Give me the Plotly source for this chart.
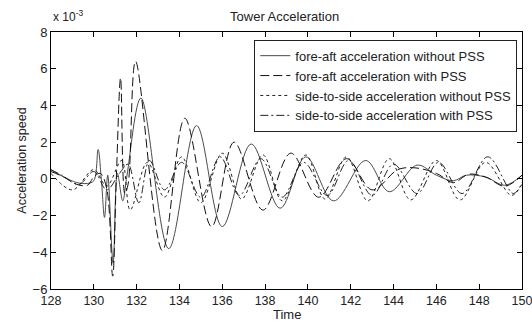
import plotly.graph_objects as go

# fore-aft acceleration without PSS (units of 1e-3)
t_fa_wo = [128.0, 128.6, 129.2, 129.7, 130.0, 130.2, 130.35, 130.5, 130.65, 130.9, 131.1, 131.35, 131.55,
           132.2, 133.5, 134.8, 136.0, 137.35, 138.7, 139.9, 141.2, 142.7, 143.8, 145.1, 146.0, 146.8,
           147.4, 148.3, 149.2, 150.0]
v_fa_wo = [0.5, 0.1, -0.2, -0.25, -0.1, 1.6, 0.0, -2.1, 0.2, -4.6, 0.3, -1.2, 0.2,
           4.4, -3.8, 2.9, -2.6, 1.9, -1.6, 1.2, -1.2, 1.0, -0.7, 0.75, 0.2, -0.1,
           0.2, 0.1, -0.35, 0.2]

# fore-aft acceleration with PSS
t_fa_w = [128.0, 128.6, 129.2, 129.7, 130.0, 130.3, 130.6, 130.88, 131.05, 131.25, 131.45, 131.6, 131.95,
          133.2, 134.25, 135.5, 136.55, 137.9, 139.2, 140.5, 141.8, 143.0, 144.2, 145.0, 146.0, 146.8,
          147.5, 148.3, 149.2, 150.0]
v_fa_w = [0.4, 0.1, -0.3, -0.35, 0.1, 0.3, -0.5, -5.3, 0.0, 5.5, -0.8, -0.3, 6.4,
          -3.9, 3.3, -2.6, 2.0, -1.7, 1.4, -1.0, 1.1, -0.6, 0.5, 0.6, 0.3, -0.2,
          0.25, 0.1, -0.4, 0.2]

# side-to-side acceleration without PSS
t_ss_wo = [128.0, 129.0, 130.0, 130.6, 131.3, 131.7, 132.5, 133.3, 134.1, 135.0, 136.0, 136.9, 137.9,
           138.8, 139.9, 140.8, 141.8, 142.8, 143.8, 144.8, 146.0, 147.1, 148.3, 149.5, 150.0]
v_ss_wo = [0.3, -0.6, 0.5, -0.4, 1.0, -1.7, 0.9, -1.0, 1.2, -1.3, 1.4, -1.1, 1.3,
           -1.2, 1.3, -1.1, 1.2, -1.2, 1.1, -1.15, 1.0, -1.15, 0.9, -0.9, -0.3]

# side-to-side acceleration with PSS
t_ss_w = [128.0, 128.5, 129.3, 130.0, 130.6, 131.2, 131.6, 132.1, 132.6, 133.3, 134.1, 135.0, 135.9,
          136.8, 137.8, 138.8, 139.8, 140.9, 141.9, 143.0, 144.0, 145.1, 146.1, 147.2, 148.4, 149.6, 150.0]
v_ss_w = [0.5, 0.2, -0.3, 0.4, -0.6, 0.3, 0.8, -1.3, 1.0, -0.6, 0.9, -1.0, 1.2,
          -0.9, 1.1, -1.0, 0.9, -0.9, 1.0, -0.9, 0.8, -0.8, 0.9, -0.8, 1.2, -0.8, -0.2]

x_ticks = list(range(128, 151, 2))
y_ticks = list(range(-6, 9, 2))

series = [
    ("fore-aft acceleration without PSS", t_fa_wo, v_fa_wo, "solid", "#4a4a4a"),
    ("fore-aft acceleration with PSS", t_fa_w, v_fa_w, "9px,4px", "#111111"),
    ("side-to-side acceleration without PSS", t_ss_wo, v_ss_wo, "3px,3px", "#222222"),
    ("side-to-side acceleration with PSS", t_ss_w, v_ss_w, "8px,3px,2px,3px", "#222222"),
]

fig = go.Figure()
for name, t, v, dash, col in series:
    fig.add_trace(go.Scatter(x=t, y=v, mode="lines", name=name,
                             line=dict(color=col, width=1, dash=dash, shape="spline", smoothing=1.0)))

font = dict(family="Liberation Sans, Arial, sans-serif", size=13, color="#222222")
fig.update_layout(
    width=532, height=325,
    margin=dict(l=51, r=10, t=32, b=36, autoexpand=False),
    paper_bgcolor="white", plot_bgcolor="white",
    font=font,
    title=dict(text="Tower Acceleration", x=0.535, xanchor="center", y=0.95, yanchor="middle",
               font=dict(size=13), automargin=False),
    showlegend=True,
    legend=dict(x=0.99, y=0.97, xanchor="right", yanchor="top",
                bgcolor="white", bordercolor="#222222", borderwidth=1,
                font=dict(size=13), tracegroupgap=0, itemwidth=30),
)
fig.update_xaxes(range=[128, 150], tickmode="array", tickvals=x_ticks, automargin=False,
                 ticklabeloverflow="allow",
                 ticks="inside", ticklen=5, tickcolor="black", showline=True, linecolor="black",
                 linewidth=1, mirror="ticks", showgrid=False, zeroline=False, tickfont=dict(size=12.5))
fig.update_yaxes(range=[-6, 8], tickmode="array", tickvals=y_ticks, automargin=False,
                 ticklabeloverflow="allow",
                 ticks="inside", ticklen=5, tickcolor="black", showline=True, linecolor="black",
                 linewidth=1, mirror="ticks", showgrid=False, zeroline=False, tickfont=dict(size=13),
                 title=dict(text="Acceleration speed", standoff=3, font=dict(size=12.5)))
fig.add_annotation(text="Time", xref="paper", yref="paper", x=0.5, y=-0.101,
                   xanchor="center", yanchor="middle", showarrow=False, font=dict(size=13))
fig.add_annotation(text="x 10<sup>-3</sup>", xref="paper", yref="paper", x=0.0, y=1.025,
                   xanchor="left", yanchor="bottom", showarrow=False, font=dict(size=12))
fig.write_html("out.html", config={"displayModeBar": False},
               post_script="document.body.style.margin='0';")
